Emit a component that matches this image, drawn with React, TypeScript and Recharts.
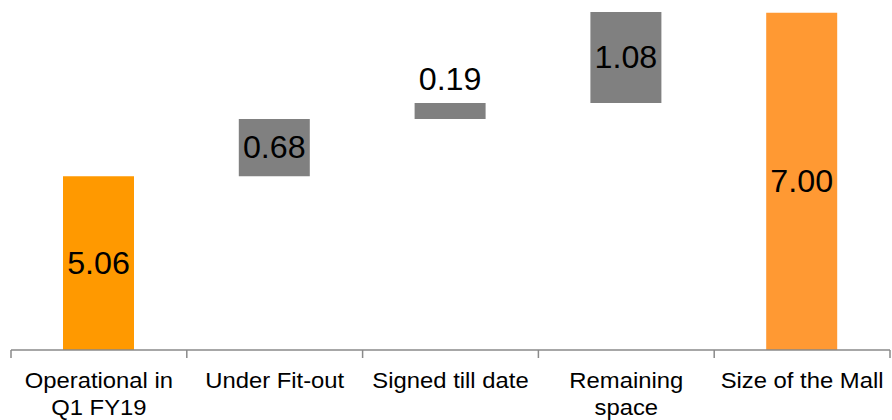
import React from 'react';
import { BarChart, Bar, XAxis, YAxis, Cell, LabelList } from 'recharts';

const categories = ['Operational in\nQ1 FY19', 'Under Fit-out', 'Signed till date', 'Remaining\nspace', 'Size of the Mall'];
const values = [5.06, 0.68, 0.19, 1.08, 7.0];
const isTotal = [true, false, false, false, true];
const colors = ['#FF9900', '#808080', '#808080', '#808080', '#FF9933'];
const labelAbove = [false, false, true, false, false];
const axisMin = 3;
const axisMax = 7.01;

let running = 0;
const data = categories.map((c, i) => {
  let low: number;
  let high: number;
  if (isTotal[i]) {
    low = 0;
    high = values[i];
    running = values[i];
  } else {
    low = running;
    high = running + values[i];
    running = high;
  }
  return { name: c, value: values[i], range: [Math.max(low, axisMin), high] };
});

const FONT = '"Liberation Sans", Arial, sans-serif';
const AXIS_COLOR = '#8a8a8a';

const Tick = (props: any) => {
  const { x, y, payload, index } = props;
  const off = payload && payload.offset ? payload.offset : 87.9;
  const lines = String(payload.value).split('\n');
  return (
    <g>
      <line x1={x - off} x2={x - off} y1={y} y2={y + 8} stroke={AXIS_COLOR} strokeWidth={1.5} />
      {index === categories.length - 1 && (
        <line x1={x + off} x2={x + off} y1={y} y2={y + 8} stroke={AXIS_COLOR} strokeWidth={1.5} />
      )}
      <g transform={`translate(${x},0) scale(1.05,1) translate(${-x},0)`}>
        <text x={x} y={y} textAnchor="middle" fontSize={22.7} fill="#000" fontFamily={FONT}>
          {lines.map((l, i) => (
            <tspan key={i} x={x} y={y + 38 + i * 27}>
              {l}
            </tspan>
          ))}
        </text>
      </g>
    </g>
  );
};

const ValueLabel = (props: any) => {
  const { index, value } = props;
  const vb = props.viewBox || {};
  const x = props.x ?? vb.x;
  const y = props.y ?? vb.y;
  const width = props.width ?? vb.width;
  const height = props.height ?? vb.height;
  const cx = x + width / 2;
  const text = Number(value).toFixed(2);
  const tf = `translate(${cx},0) scale(1.04,1) translate(${-cx},0)`;
  if (labelAbove[index]) {
    return (
      <g transform={tf}>
        <text x={cx} y={y - 13} textAnchor="middle" fontSize={31} fill="#000" fontFamily={FONT}>
          {text}
        </text>
      </g>
    );
  }
  return (
    <g transform={tf}>
      <text x={cx} y={y + height / 2} textAnchor="middle" dominantBaseline="central" fontSize={31} fill="#000" fontFamily={FONT}>
        {text}
      </text>
    </g>
  );
};

export default function App() {
  return (
    <div style={{ position: 'absolute', left: 0, top: 0, width: 892, height: 420, background: '#fff' }}>
      <BarChart width={892} height={420} data={data} margin={{ top: 12, right: 2, left: 11, bottom: 0 }} barSize={71}>
        <XAxis
          dataKey="name"
          height={70}
          tickSize={0}
          tickMargin={0}
          tickLine={false}
          axisLine={{ stroke: AXIS_COLOR, strokeWidth: 1.5 }}
          tick={<Tick />}
          interval={0}
        />
        <YAxis hide domain={[axisMin, axisMax]} allowDataOverflow />
        <Bar dataKey="range" isAnimationActive={false}>
          {data.map((d, i) => (
            <Cell key={i} fill={colors[i]} />
          ))}
          <LabelList dataKey="value" content={<ValueLabel />} />
        </Bar>
      </BarChart>
    </div>
  );
}
